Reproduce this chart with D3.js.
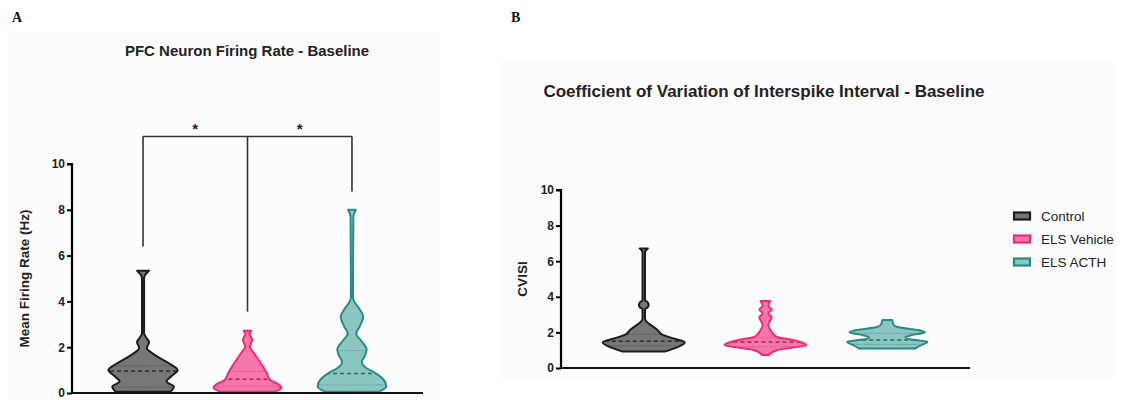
<!DOCTYPE html>
<html>
<head>
<meta charset="utf-8">
<script src="https://cdn.jsdelivr.net/npm/d3@7"></script>
<style>
  body { margin: 0; background: #fff; }
  text { font-family: "Liberation Sans", Arial, sans-serif; }
</style>
</head>
<body>
<svg id="chart" width="1125" height="400"></svg>
<script>

const groups = ["Control", "ELS Vehicle", "ELS ACTH"];
const strokeColors = ["#1c1c1c", "#ee2a7b", "#2b8a85"];
const fillColors = ["#777777", "#f578a8", "#8cc6c1"];
const lineColors = ["#2a2a2a", "#b81c5e", "#1f6b67"];
const yTicks = [0, 2, 4, 6, 8, 10];

// violin outlines: [value, relative half width]
const rateControl = [[0.06, 0.79], [0.28, 0.88], [0.5, 0.67], [0.72, 0.8], [1.0, 0.99], [1.3, 0.74],
    [1.6, 0.4], [1.96, 0.11], [2.22, 0.17], [2.45, 0.08], [2.6, 0.03], [5.0, 0.03], [5.15, 0.06], [5.34, 0.17]];
const rateVehicle = [[0.06, 0.78], [0.22, 0.97], [0.37, 0.9], [0.58, 0.64], [0.87, 0.55], [1.13, 0.45],
    [1.57, 0.26], [1.85, 0.13], [2.0, 0.07], [2.15, 0.09], [2.31, 0.13], [2.45, 0.1], [2.55, 0.06], [2.72, 0.11]];
const rateActh = [[0.06, 0.77], [0.28, 0.98], [0.5, 0.94], [0.87, 0.67], [1.1, 0.4], [1.35, 0.28],
    [1.6, 0.36], [1.9, 0.42], [2.25, 0.28], [2.6, 0.12], [2.9, 0.22], [3.33, 0.32], [3.7, 0.2],
    [4.0, 0.06], [4.2, 0.03], [7.7, 0.04], [8.0, 0.11]];
// [q1, median, q3]
const rateQuartiles = [[0.26, 0.96, 1.18], [0.3, 0.6, 0.95], [0.35, 0.85, 1.85]];

const cvControl = [[0.92, 0.51], [1.2, 0.85], [1.43, 1.0], [1.68, 0.7], [1.87, 0.45], [2.15, 0.33],
    [2.45, 0.15], [2.65, 0.05], [2.8, 0.03], [3.3, 0.03], [3.4, 0.09], [3.55, 0.12], [3.7, 0.09], [3.8, 0.03],
    [6.5, 0.03], [6.72, 0.1]];
const cvVehicle = [[0.73, 0.08], [1.01, 0.29], [1.29, 1.0], [1.56, 0.69], [1.75, 0.27], [2.13, 0.12],
    [2.42, 0.07], [2.85, 0.15], [3.06, 0.07], [3.28, 0.15], [3.5, 0.07], [3.76, 0.12]];
const cvActh = [[1.1, 0.69], [1.25, 0.8], [1.48, 0.98], [1.6, 0.6], [1.72, 0.44], [1.85, 0.6],
    [2.0, 0.92], [2.13, 0.75], [2.3, 0.25], [2.45, 0.15], [2.7, 0.12]];
const cvQuartiles = [[1.25, 1.5, 1.9], [1.2, 1.46, 1.7], [1.33, 1.57, 1.95]];

// significance bracket in panel A
const bracketTop = 11.2;
const bracketEnds = [6.4, 3.55, 8.8];
const bracketStars = [[0, 1], [1, 2]];

const svg = d3.select("#chart");

function drawPanel(cfg) {
    const g = svg.append("g");

    // faint panel background like the exported figure
    g.append("rect")
        .attr("x", cfg.bg[0]).attr("y", cfg.bg[1])
        .attr("width", cfg.bg[2]).attr("height", cfg.bg[3])
        .attr("fill", "#fcfcfc");

    const x = d3.scalePoint()
        .domain(groups)
        .range([cfg.left, cfg.right])
        .padding(0.68);

    const y = d3.scaleLinear()
        .domain([0, 10])
        .range([cfg.bottom, cfg.top]);

    const w = d3.scaleLinear().domain([0, 1]).range([0, cfg.halfWidth]);

    cfg.profiles.forEach((prof, i) => {
        const cx = x(groups[i]);
        const area = d3.area()
            .y(d => y(d[0]))
            .x0(d => cx - w(d[1]))
            .x1(d => cx + w(d[1]))
            .curve(d3.curveMonotoneY);

        const clipId = cfg.id + "clip" + i;
        g.append("clipPath").attr("id", clipId)
            .append("path").attr("d", area(prof));

        g.append("path")
            .attr("d", area(prof))
            .attr("fill", fillColors[i]);

        const q = cfg.quartiles[i];
        const ql = g.append("g").attr("clip-path", "url(#" + clipId + ")");
        q.forEach((v, k) => {
            ql.append("line")
                .attr("x1", cx - cfg.halfWidth - 5).attr("x2", cx + cfg.halfWidth + 5)
                .attr("y1", y(v)).attr("y2", y(v))
                .attr("stroke", lineColors[i])
                .attr("stroke-width", k == 1 ? 1.4 : 1)
                .attr("stroke-dasharray", k == 1 ? "4,3" : "1,1.5")
                .attr("opacity", k == 1 ? 1 : 0.6);
        });

        g.append("path")
            .attr("d", area(prof))
            .attr("fill", "none")
            .attr("stroke", strokeColors[i])
            .attr("stroke-width", 2)
            .attr("stroke-linejoin", "round");
    });

    // axes
    const yAxis = g.append("g")
        .attr("transform", "translate(" + cfg.left + ",0)")
        .call(d3.axisLeft(y).tickValues(yTicks).tickSize(5).tickPadding(2).tickFormat(d3.format("d")));
    yAxis.select(".domain").attr("stroke-width", 2.2).attr("d", "M-5," + cfg.top + "H0V" + cfg.bottom);
    yAxis.selectAll(".tick line").attr("stroke-width", 2);
    yAxis.selectAll("text")
        .attr("font-size", 12).attr("font-weight", "bold").attr("fill", "#222")
        .style("font-family", "'Liberation Sans', Arial, sans-serif");

    g.append("line")
        .attr("x1", cfg.left - 1).attr("x2", cfg.right)
        .attr("y1", cfg.bottom).attr("y2", cfg.bottom)
        .attr("stroke", "#111").attr("stroke-width", 2.2);

    g.append("text")
        .attr("transform", "translate(" + cfg.ylabelX + "," + (cfg.top + cfg.bottom) / 2 + ") rotate(-90)")
        .attr("text-anchor", "middle")
        .attr("font-size", cfg.ylabelSize).attr("font-weight", "bold").attr("fill", "#222")
        .text(cfg.ylabel);

    g.append("text")
        .attr("x", cfg.titleX).attr("y", cfg.titleY)
        .attr("text-anchor", "middle")
        .attr("font-size", cfg.titleSize).attr("font-weight", "bold").attr("fill", "#222")
        .text(cfg.title);

    g.append("text")
        .attr("x", cfg.letterX).attr("y", 22)
        .attr("font-size", 14).attr("font-weight", "bold")
        .style("font-family", "'Liberation Serif', 'Times New Roman', serif")
        .attr("fill", "#111")
        .text(cfg.letter);

    return { x: x, y: y, g: g };
}

const panelA = drawPanel({
    id: "a", letter: "A", letterX: 12,
    bg: [8, 32, 432, 368],
    left: 72, right: 423, top: 164, bottom: 393, halfWidth: 35,
    profiles: [rateControl, rateVehicle, rateActh],
    quartiles: rateQuartiles,
    title: "PFC Neuron Firing Rate - Baseline", titleX: 247, titleY: 56, titleSize: 15,
    ylabel: "Mean Firing Rate (Hz)", ylabelX: 29, ylabelSize: 13.5
});

const panelB = drawPanel({
    id: "b", letter: "B", letterX: 511,
    bg: [500, 60, 615, 320],
    left: 561, right: 970, top: 190, bottom: 368, halfWidth: 41,
    profiles: [cvControl, cvVehicle, cvActh],
    quartiles: cvQuartiles,
    title: "Coefficient of Variation of Interspike Interval - Baseline", titleX: 764, titleY: 97, titleSize: 17,
    ylabel: "CVISI", ylabelX: 527, ylabelSize: 13.5
});

// significance bracket
const xa = panelA.x, ya = panelA.y;
panelA.g.append("line")
    .attr("x1", xa(groups[0])).attr("x2", xa(groups[2]))
    .attr("y1", ya(bracketTop)).attr("y2", ya(bracketTop))
    .attr("stroke", "#333").attr("stroke-width", 1.6);
bracketEnds.forEach((v, i) => {
    panelA.g.append("line")
        .attr("x1", xa(groups[i])).attr("x2", xa(groups[i]))
        .attr("y1", ya(bracketTop)).attr("y2", ya(v))
        .attr("stroke", "#333").attr("stroke-width", 1.6);
});
bracketStars.forEach(p => {
    panelA.g.append("text")
        .attr("x", (xa(groups[p[0]]) + xa(groups[p[1]])) / 2)
        .attr("y", ya(bracketTop) - 3)
        .attr("text-anchor", "middle")
        .attr("font-size", 15).attr("font-weight", "bold").attr("fill", "#222")
        .text("*");
});

// legend
const legend = svg.append("g").attr("transform", "translate(1014,216)");
groups.forEach((name, i) => {
    const row = legend.append("g").attr("transform", "translate(0," + i * 23 + ")");
    row.append("rect")
        .attr("x", 0).attr("y", -3.5).attr("width", 16).attr("height", 7)
        .attr("fill", fillColors[i]).attr("stroke", strokeColors[i]).attr("stroke-width", 2.2);
    row.append("text")
        .attr("x", 27).attr("y", 5)
        .attr("font-size", 13.5).attr("fill", "#222")
        .text(name);
});
</script>
</body>
</html>
